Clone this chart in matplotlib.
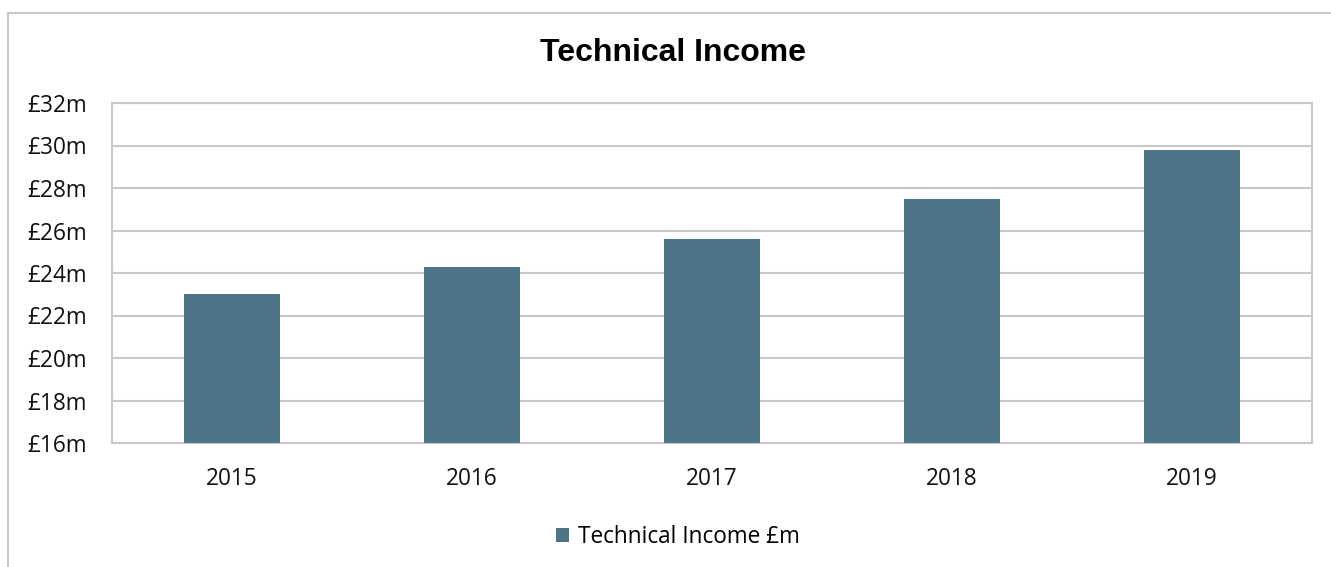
import matplotlib
matplotlib.use("Agg")
import matplotlib.pyplot as plt
from matplotlib.patches import Rectangle
from matplotlib.ticker import FuncFormatter

years = ["2015", "2016", "2017", "2018", "2019"]
income = [23.0, 24.3, 25.6, 27.5, 29.8]

W, H = 1331, 567
BAR = "#4E7489"
GRID = "#C8C8C8"
FS = 16.3

fig = plt.figure(figsize=(W / 100, H / 100), dpi=100)
fig.patch.set_facecolor("white")

# cadre extérieur du graphique (seulement gauche et haut visibles)
fig.patches.append(Rectangle((8 / W, -0.1), 1.2, (H - 13) / H + 0.1,
                             transform=fig.transFigure, fill=False,
                             edgecolor=GRID, lw=1.5))

ax = fig.add_axes([112 / W, 1 - 443 / H, (1312 - 112) / W, (443 - 103) / H])
ax.bar(years, income, width=0.4, color=BAR, zorder=3, label="Technical Income £m")
ax.set_ylim(16, 32)
ax.set_yticks(range(16, 33, 2))
ax.yaxis.set_major_formatter(FuncFormatter(lambda v, p: f"£{v:.0f}m"))
ax.set_xlim(-0.5, 4.5)
ax.grid(axis="y", color=GRID, lw=1.5, zorder=0)
for s in ax.spines.values():
    s.set_color(GRID)
    s.set_linewidth(1.5)
ax.tick_params(length=0, labelsize=FS, labelcolor="#111111")
ax.tick_params(axis="y", pad=18)
ax.tick_params(axis="x", pad=17)
for lab in ax.get_xticklabels() + ax.get_yticklabels():
    lab.set_family("Open Sans")

fig.text(673 / W, 1 - 53 / H, "Technical Income", ha="center", va="center",
         fontsize=23, fontweight="bold", family="Liberation Sans")

fig.legend(loc="center", bbox_to_anchor=(678 / W, 1 - 537 / H), frameon=False,
           prop={"family": "Open Sans", "size": FS}, handlelength=0.6,
           handleheight=0.6, handletextpad=0.4)

fig.savefig("out.png", dpi=100, facecolor="white")
